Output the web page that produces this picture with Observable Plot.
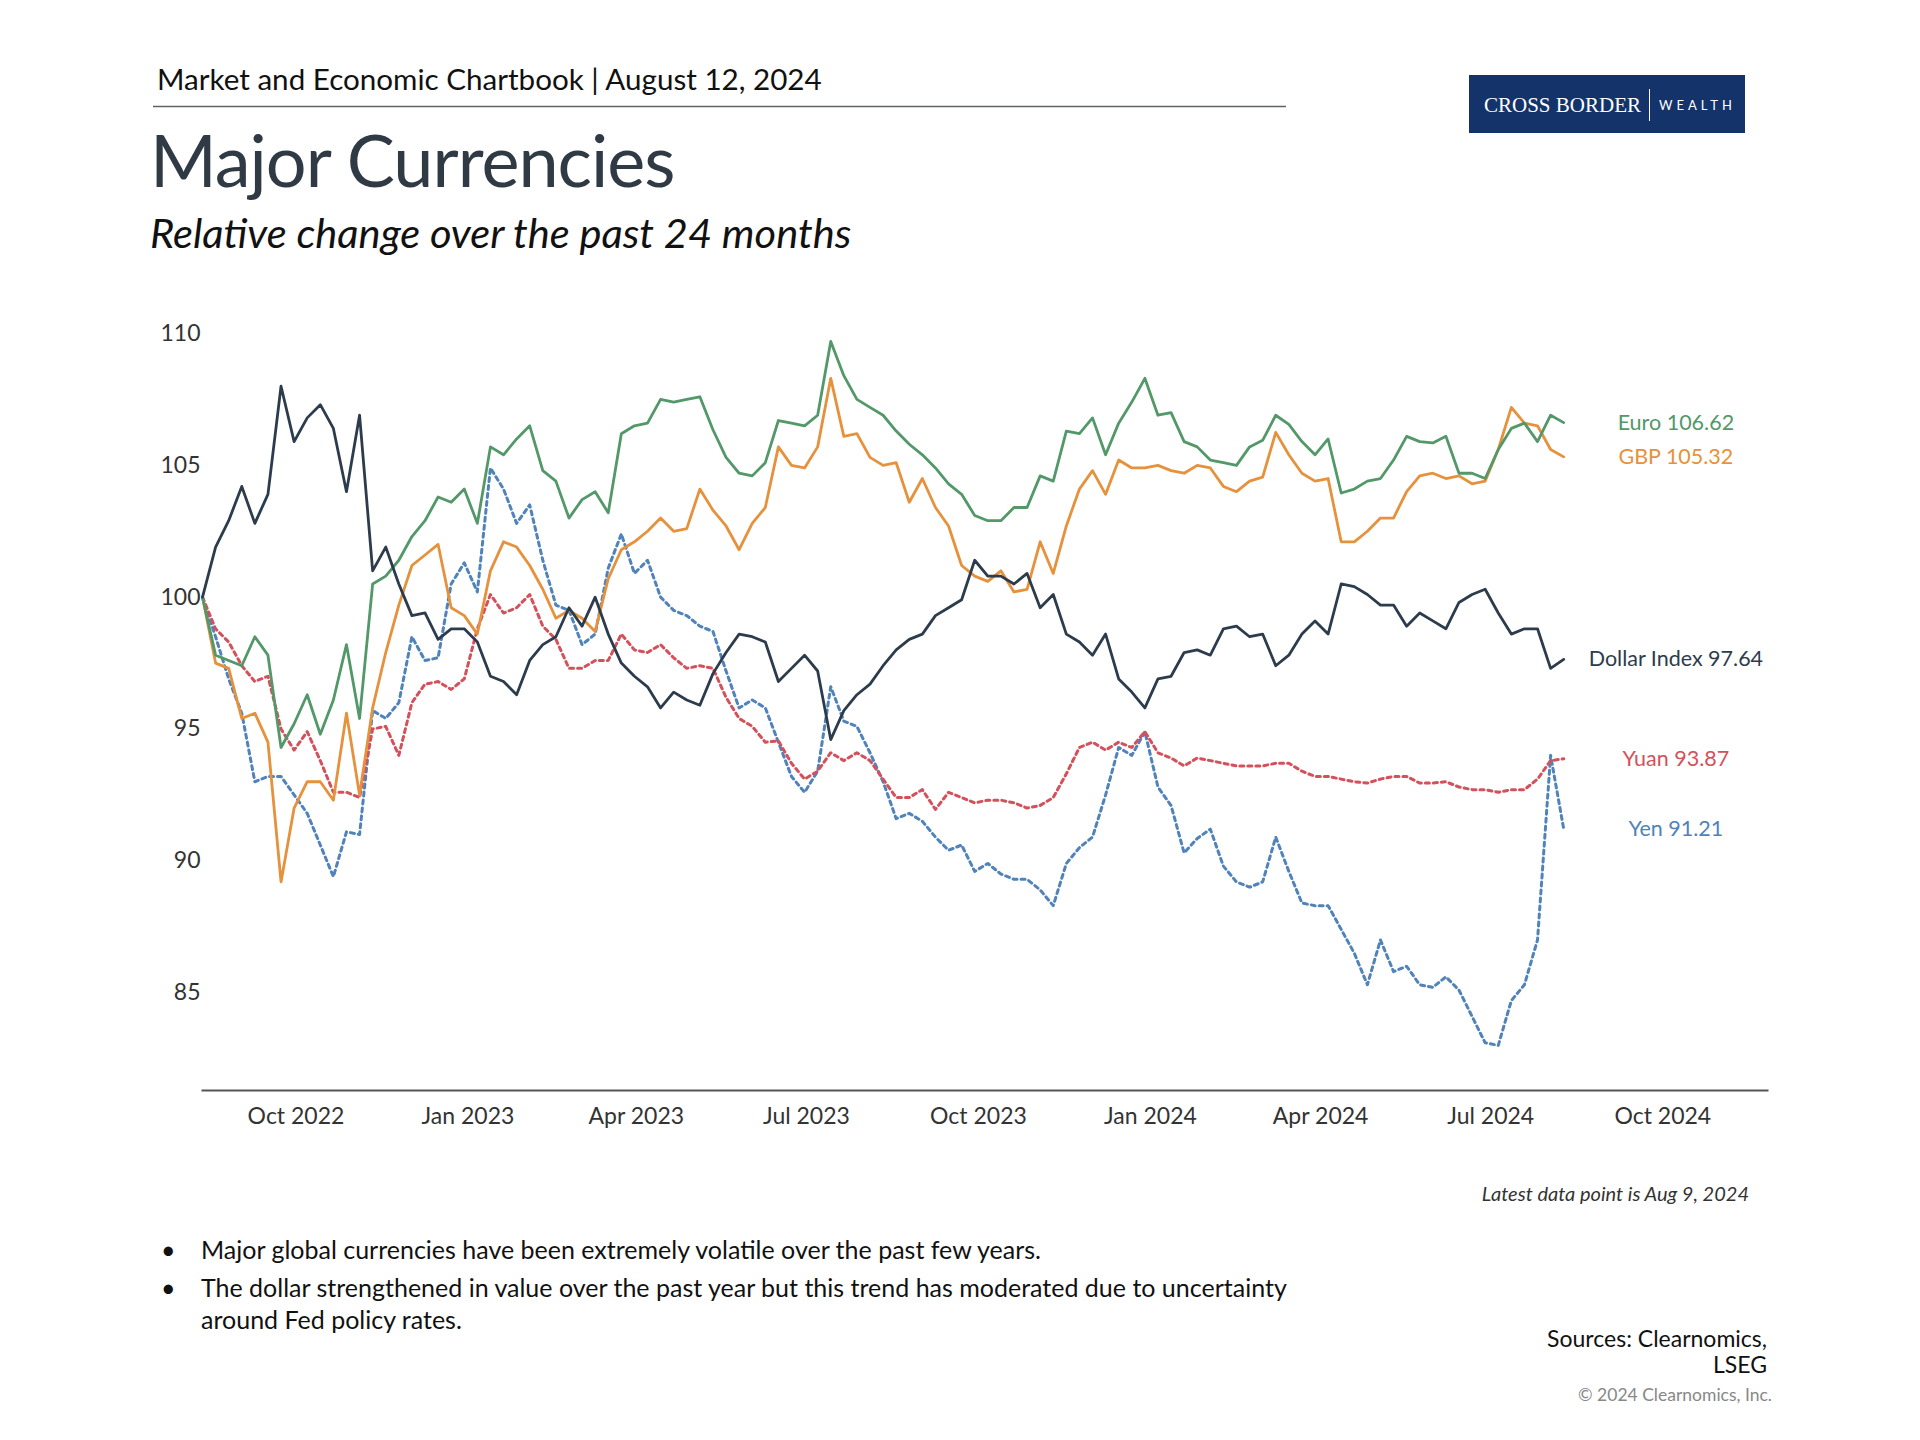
<!DOCTYPE html>
<html><head><meta charset="utf-8">
<script src="https://cdn.jsdelivr.net/npm/d3@7"></script>
<script src="https://cdn.jsdelivr.net/npm/@observablehq/plot@0.6"></script>
<style>
html,body{margin:0;padding:0;background:#fff;}
#page{position:relative;width:1920px;height:1440px;overflow:hidden;}
#chart{position:absolute;left:0;top:300px;}
#overlay{position:absolute;left:0;top:0;}
</style></head><body><div id="page"><div id="chart"></div>
<svg id="overlay" width="1920" height="1440" font-family="Lato, 'Noto Sans', sans-serif">
  <text x="157" y="90" font-size="29.6" fill="#111">Market and Economic Chartbook | August 12, 2024</text>
  <line x1="153" x2="1286" y1="106.5" y2="106.5" stroke="#5b636b" stroke-width="1.5"/>
  <text x="150" y="187" font-size="72" fill="#2f3a45" letter-spacing="-1">Major Currencies</text>
  <text x="150" y="248" font-size="41.6" font-style="italic" fill="#111">Relative change over the past 24 months</text>
  <rect x="1469" y="75" width="276" height="58" fill="#14336a"/>
  <text x="1484" y="112" font-size="21" font-family="'Liberation Serif', 'DejaVu Serif', serif" fill="#fff">CROSS BORDER</text>
  <line x1="1649.5" x2="1649.5" y1="89" y2="121" stroke="#fff" stroke-width="1"/>
  <text x="1659" y="110" font-size="13" fill="#fff" letter-spacing="4">WEALTH</text>
  <text x="1749" y="1201" font-size="20" font-style="italic" fill="#333" text-anchor="end">Latest data point is Aug 9, 2024</text>
  <text x="161" y="1259" font-size="25" fill="#111">•</text>
  <text x="201" y="1259" font-size="25" fill="#111">Major global currencies have been extremely volatile over the past few years.</text>
  <text x="161" y="1297" font-size="25" fill="#111">•</text>
  <text x="201" y="1297" font-size="25" fill="#111">The dollar strengthened in value over the past year but this trend has moderated due to uncertainty</text>
  <text x="201" y="1329" font-size="25" fill="#111">around Fed policy rates.</text>
  <text x="1767" y="1347" font-size="23" fill="#111" text-anchor="end">Sources: Clearnomics,</text>
  <text x="1767" y="1373" font-size="23" fill="#111" text-anchor="end">LSEG</text>
  <text x="1772" y="1401" font-size="17.5" fill="#888" text-anchor="end">© 2024 Clearnomics, Inc.</text>
</svg>
</div>
<script>
// Weekly observations starting Friday Aug 12, 2022, through Aug 9, 2024 (index 100 = start)
const firstWeek = "2022-08-12";
const dollarIndex = [
100.0,101.9,102.9,104.2,102.8,103.9,108.0,105.9,106.8,107.3,
106.4,104.0,106.9,101.0,101.9,100.5,99.3,99.4,98.4,98.8,
98.8,98.3,97.0,96.8,96.3,97.6,98.2,98.5,99.6,98.9,
100.0,98.6,97.5,97.0,96.6,95.8,96.4,96.1,95.9,97.1,
97.9,98.6,98.5,98.3,96.8,97.3,97.8,97.2,94.6,95.7,
96.3,96.7,97.4,98.0,98.4,98.6,99.3,99.6,99.9,101.4,
100.8,100.8,100.5,100.9,99.6,100.1,98.6,98.3,97.8,98.6,
96.9,96.4,95.8,96.9,97.0,97.9,98.0,97.8,98.8,98.9,
98.5,98.6,97.4,97.8,98.6,99.1,98.6,100.5,100.4,100.1,
99.7,99.7,98.9,99.4,99.1,98.8,99.8,100.1,100.3,99.4,
98.6,98.8,98.8,97.3,97.64];
const euro = [
100.0,97.8,97.6,97.4,98.5,97.8,94.3,95.2,96.3,94.8,
96.1,98.2,95.4,100.5,100.8,101.4,102.3,102.9,103.8,103.6,
104.1,102.8,105.7,105.4,106.0,106.5,104.8,104.4,103.0,103.7,
104.0,103.2,106.2,106.5,106.6,107.5,107.4,107.5,107.6,106.35,
105.3,104.7,104.6,105.1,106.7,106.6,106.5,106.9,109.7,108.4,
107.5,107.2,106.9,106.3,105.8,105.4,104.9,104.3,103.9,103.1,
102.9,102.9,103.4,103.4,104.6,104.4,106.3,106.2,106.8,105.4,
106.6,107.4,108.3,106.9,107.0,105.9,105.7,105.2,105.1,105.0,
105.7,105.95,106.9,106.55,105.9,105.4,106.0,103.95,104.1,104.4,
104.5,105.2,106.1,105.9,105.85,106.1,104.7,104.7,104.5,105.6,
106.4,106.6,105.9,106.9,106.62];
const gbp = [
100.0,97.5,97.3,95.4,95.6,94.5,89.2,92.0,93.0,93.0,
92.3,95.6,92.5,95.8,97.9,99.7,101.2,101.6,102.0,99.6,
99.3,98.6,101.0,102.1,101.9,101.2,100.3,99.2,99.5,99.2,
98.7,100.7,101.8,102.1,102.5,103.0,102.5,102.6,104.1,103.3,
102.7,101.8,102.8,103.4,105.7,105.0,104.9,105.7,108.3,106.1,
106.2,105.3,105.0,105.1,103.6,104.5,103.4,102.7,101.2,100.8,
100.6,101.0,100.2,100.3,102.1,100.9,102.7,104.1,104.8,103.9,
105.2,104.9,104.9,105.0,104.8,104.7,105.0,104.9,104.2,104.0,
104.4,104.55,106.25,105.4,104.7,104.4,104.5,102.1,102.1,102.5,
103.0,103.0,104.0,104.6,104.7,104.5,104.6,104.3,104.4,105.6,
107.2,106.6,106.5,105.6,105.32];
const yuan = [
100.0,98.8,98.3,97.4,96.8,97.0,95.0,94.2,94.9,93.8,
92.6,92.6,92.4,95.0,95.1,94.0,96.0,96.7,96.8,96.5,
96.9,98.8,100.1,99.4,99.6,100.1,98.9,98.4,97.3,97.3,
97.6,97.6,98.6,98.0,97.9,98.2,97.7,97.3,97.4,97.3,
96.2,95.4,95.1,94.5,94.55,93.7,93.1,93.4,94.1,93.8,
94.1,93.8,93.1,92.4,92.4,92.7,91.95,92.6,92.4,92.2,
92.3,92.3,92.2,92.0,92.1,92.4,93.3,94.3,94.5,94.2,
94.5,94.3,94.9,94.1,93.9,93.6,93.9,93.8,93.7,93.6,
93.6,93.6,93.7,93.7,93.4,93.2,93.2,93.1,93.0,92.95,
93.1,93.2,93.2,92.95,92.95,93.0,92.8,92.7,92.7,92.6,
92.7,92.7,93.1,93.8,93.87];
const yen = [
100.0,98.5,96.9,95.6,93.0,93.2,93.2,92.5,91.8,90.6,
89.4,91.1,91.0,95.7,95.4,96.0,98.5,97.6,97.7,100.5,
101.3,100.2,104.9,104.1,102.8,103.5,101.4,99.7,99.5,98.2,
98.6,101.1,102.4,100.9,101.4,100.0,99.5,99.3,98.9,98.7,
97.2,95.8,96.1,95.8,94.5,93.2,92.6,93.4,96.6,95.3,
95.1,94.1,93.0,91.6,91.8,91.5,90.9,90.4,90.6,89.6,
89.9,89.5,89.3,89.3,88.9,88.3,89.9,90.5,90.9,92.5,
94.3,94.0,94.9,92.8,92.1,90.3,90.85,91.2,89.8,89.2,
89.0,89.2,90.9,89.6,88.4,88.3,88.3,87.4,86.5,85.3,
87.0,85.8,86.0,85.3,85.2,85.6,85.1,84.1,83.1,83.0,
84.7,85.3,87.0,94.0,91.21];

const seriesNames = ["Yen", "Yuan", "GBP", "Euro", "Dollar Index"];
const seriesValues = [yen, yuan, gbp, euro, dollarIndex];
const seriesColors = ["#4f83b9", "#d4505b", "#e6913c", "#529868", "#2d3c4d"];
const seriesDotted = [true, true, false, false, false];
const xTickLabels = ["2022-10-01","2023-01-01","2023-04-01","2023-07-01","2023-10-01","2024-01-01","2024-04-01","2024-07-01","2024-10-01"];
const yTicks = [85, 90, 95, 100, 105, 110];
const xDomain = ["2022-08-12", "2024-11-26"];
const labelDate = "2024-10-08";

const start = new Date(firstWeek + "T00:00:00Z");
const parse = s => new Date(s + "T00:00:00Z");

const marks = [
  Plot.axisX({ticks: xTickLabels.map(parse), tickFormat: d3.utcFormat("%b %Y"), tickSize: 0, tickPadding: 17, label: null, fill: "#333"}),
  Plot.axisY({ticks: yTicks, tickSize: 0, tickPadding: 2, label: null, fill: "#333"}),
  Plot.frame({anchor: "bottom", stroke: "#555", strokeWidth: 2})
];
seriesNames.forEach((name, k) => {
  const rows = seriesValues[k].map((v, i) => ({date: d3.utcDay.offset(start, 7 * i), value: v}));
  marks.push(Plot.line(rows, {
    x: "date", y: "value", stroke: seriesColors[k],
    strokeWidth: seriesDotted[k] ? 3 : 2.8,
    strokeDasharray: seriesDotted[k] ? "4,4" : null, curve: "linear"
  }));
  const last = rows[rows.length - 1];
  marks.push(Plot.text([{date: parse(labelDate), value: last.value, label: `${name} ${d3.format(".2f")(last.value)}`}], {
    x: "date", y: "value", text: "label", fill: seriesColors[k], fontSize: 21.5, textAnchor: "middle"
  }));
});

const chart = Plot.plot({
  width: 1920, height: 850,
  marginLeft: 202, marginRight: 153, marginTop: 33, marginBottom: 60,
  x: {type: "utc", domain: xDomain.map(parse)},
  y: {domain: [81.29, 110]},
  style: {fontFamily: "Lato, 'Noto Sans', sans-serif", fontSize: "23px", color: "#333", background: "transparent"},
  marks
});
document.getElementById("chart").appendChild(chart);
</script>
</body></html>
